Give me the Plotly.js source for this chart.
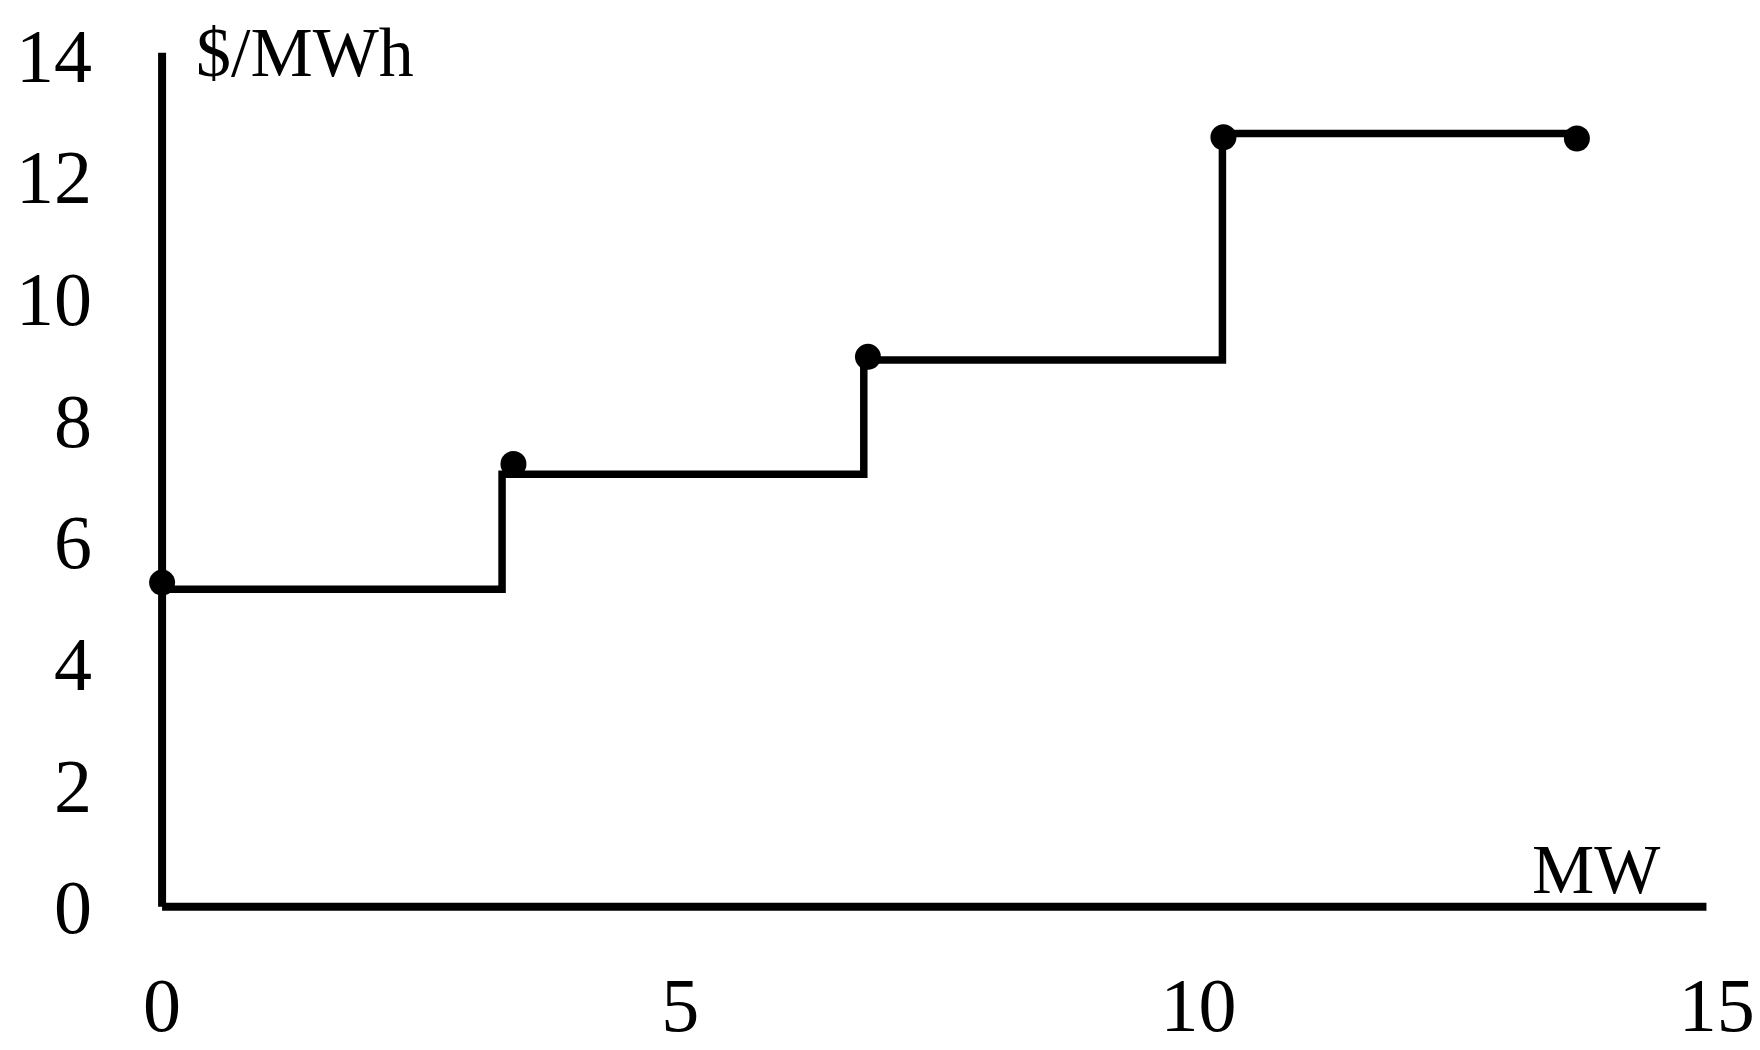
<!DOCTYPE html>
<html>
<head>
<meta charset="utf-8">
<script src="https://cdn.plot.ly/plotly-3.0.1.min.js"></script>
<style>
  html, body { margin: 0; padding: 0; background: #ffffff; }
  #chart { width: 1760px; height: 1050px; }
</style>
</head>
<body>
<div id="chart"></div>
<script>
// Step supply curve (MW vs $/MWh)
const stepX = [0, 3.28, 6.77, 10.23, 13.65];
const stepY = [5.22, 7.11, 8.99, 12.71, 12.71];
// Dots drawn at the top-left of each step
const dotX = [0, 3.39, 6.81, 10.24, 13.65];
const dotY = [5.33, 7.28, 9.04, 12.65, 12.63];
// Axis ticks
const xTicks = [0, 5, 10, 15];
const yTicks = [0, 2, 4, 6, 8, 10, 12, 14];
// Axis extents
const xAxisEnd = 14.9;
const yAxisEnd = 14.04;
const xLabel = 'MW';
const yLabel = '$/MWh';

const serif = 'Liberation Serif, Times New Roman, serif';

const traces = [
  {
    x: stepX, y: stepY, type: 'scatter', mode: 'lines',
    line: { shape: 'hv', color: '#000', width: 7.5 },
    cliponaxis: false, hoverinfo: 'skip', showlegend: false
  },
  {
    x: dotX, y: dotY, type: 'scatter', mode: 'markers',
    marker: { color: '#000', size: 26 },
    cliponaxis: false, showlegend: false
  }
];

const layout = {
  width: 1760, height: 1050,
  paper_bgcolor: '#fff', plot_bgcolor: '#fff',
  margin: { l: 131.4, r: 38.3, t: 49.2, b: 134.4, pad: 0 },
  showlegend: false,
  font: { family: serif, color: '#000' },
  xaxis: {
    range: [-0.3, 15.05],
    tickvals: xTicks, ticktext: xTicks.map(String),
    showgrid: false, zeroline: false, showline: false, ticks: '',
    ticklabelstandoff: 38,
    tickfont: { family: serif, size: 76, color: '#000' }
  },
  yaxis: {
    range: [-0.15, 14.1],
    tickvals: yTicks, ticktext: yTicks.map(String),
    showgrid: false, zeroline: false, showline: false, ticks: '',
    ticklabelstandoff: 38,
    tickfont: { family: serif, size: 76, color: '#000' }
  },
  shapes: [
    { type: 'line', xref: 'x', yref: 'y', x0: 0, x1: xAxisEnd, y0: 0, y1: 0,
      line: { color: '#000', width: 8 } },
    { type: 'line', xref: 'x', yref: 'y', x0: 0, x1: 0, y0: 0, y1: yAxisEnd,
      line: { color: '#000', width: 8 } }
  ],
  annotations: [
    { text: yLabel, xref: 'x', yref: 'y', x: 0.31, y: 14.05,
      xanchor: 'left', yanchor: 'middle', showarrow: false,
      font: { family: serif, size: 70, color: '#000' } },
    { text: xLabel, xref: 'x', yref: 'y', x: 14.47, y: 0.62,
      xanchor: 'right', yanchor: 'middle', showarrow: false,
      font: { family: serif, size: 70, color: '#000' } }
  ]
};

Plotly.newPlot('chart', traces, layout, { displayModeBar: false, staticPlot: true });
</script>
</body>
</html>
